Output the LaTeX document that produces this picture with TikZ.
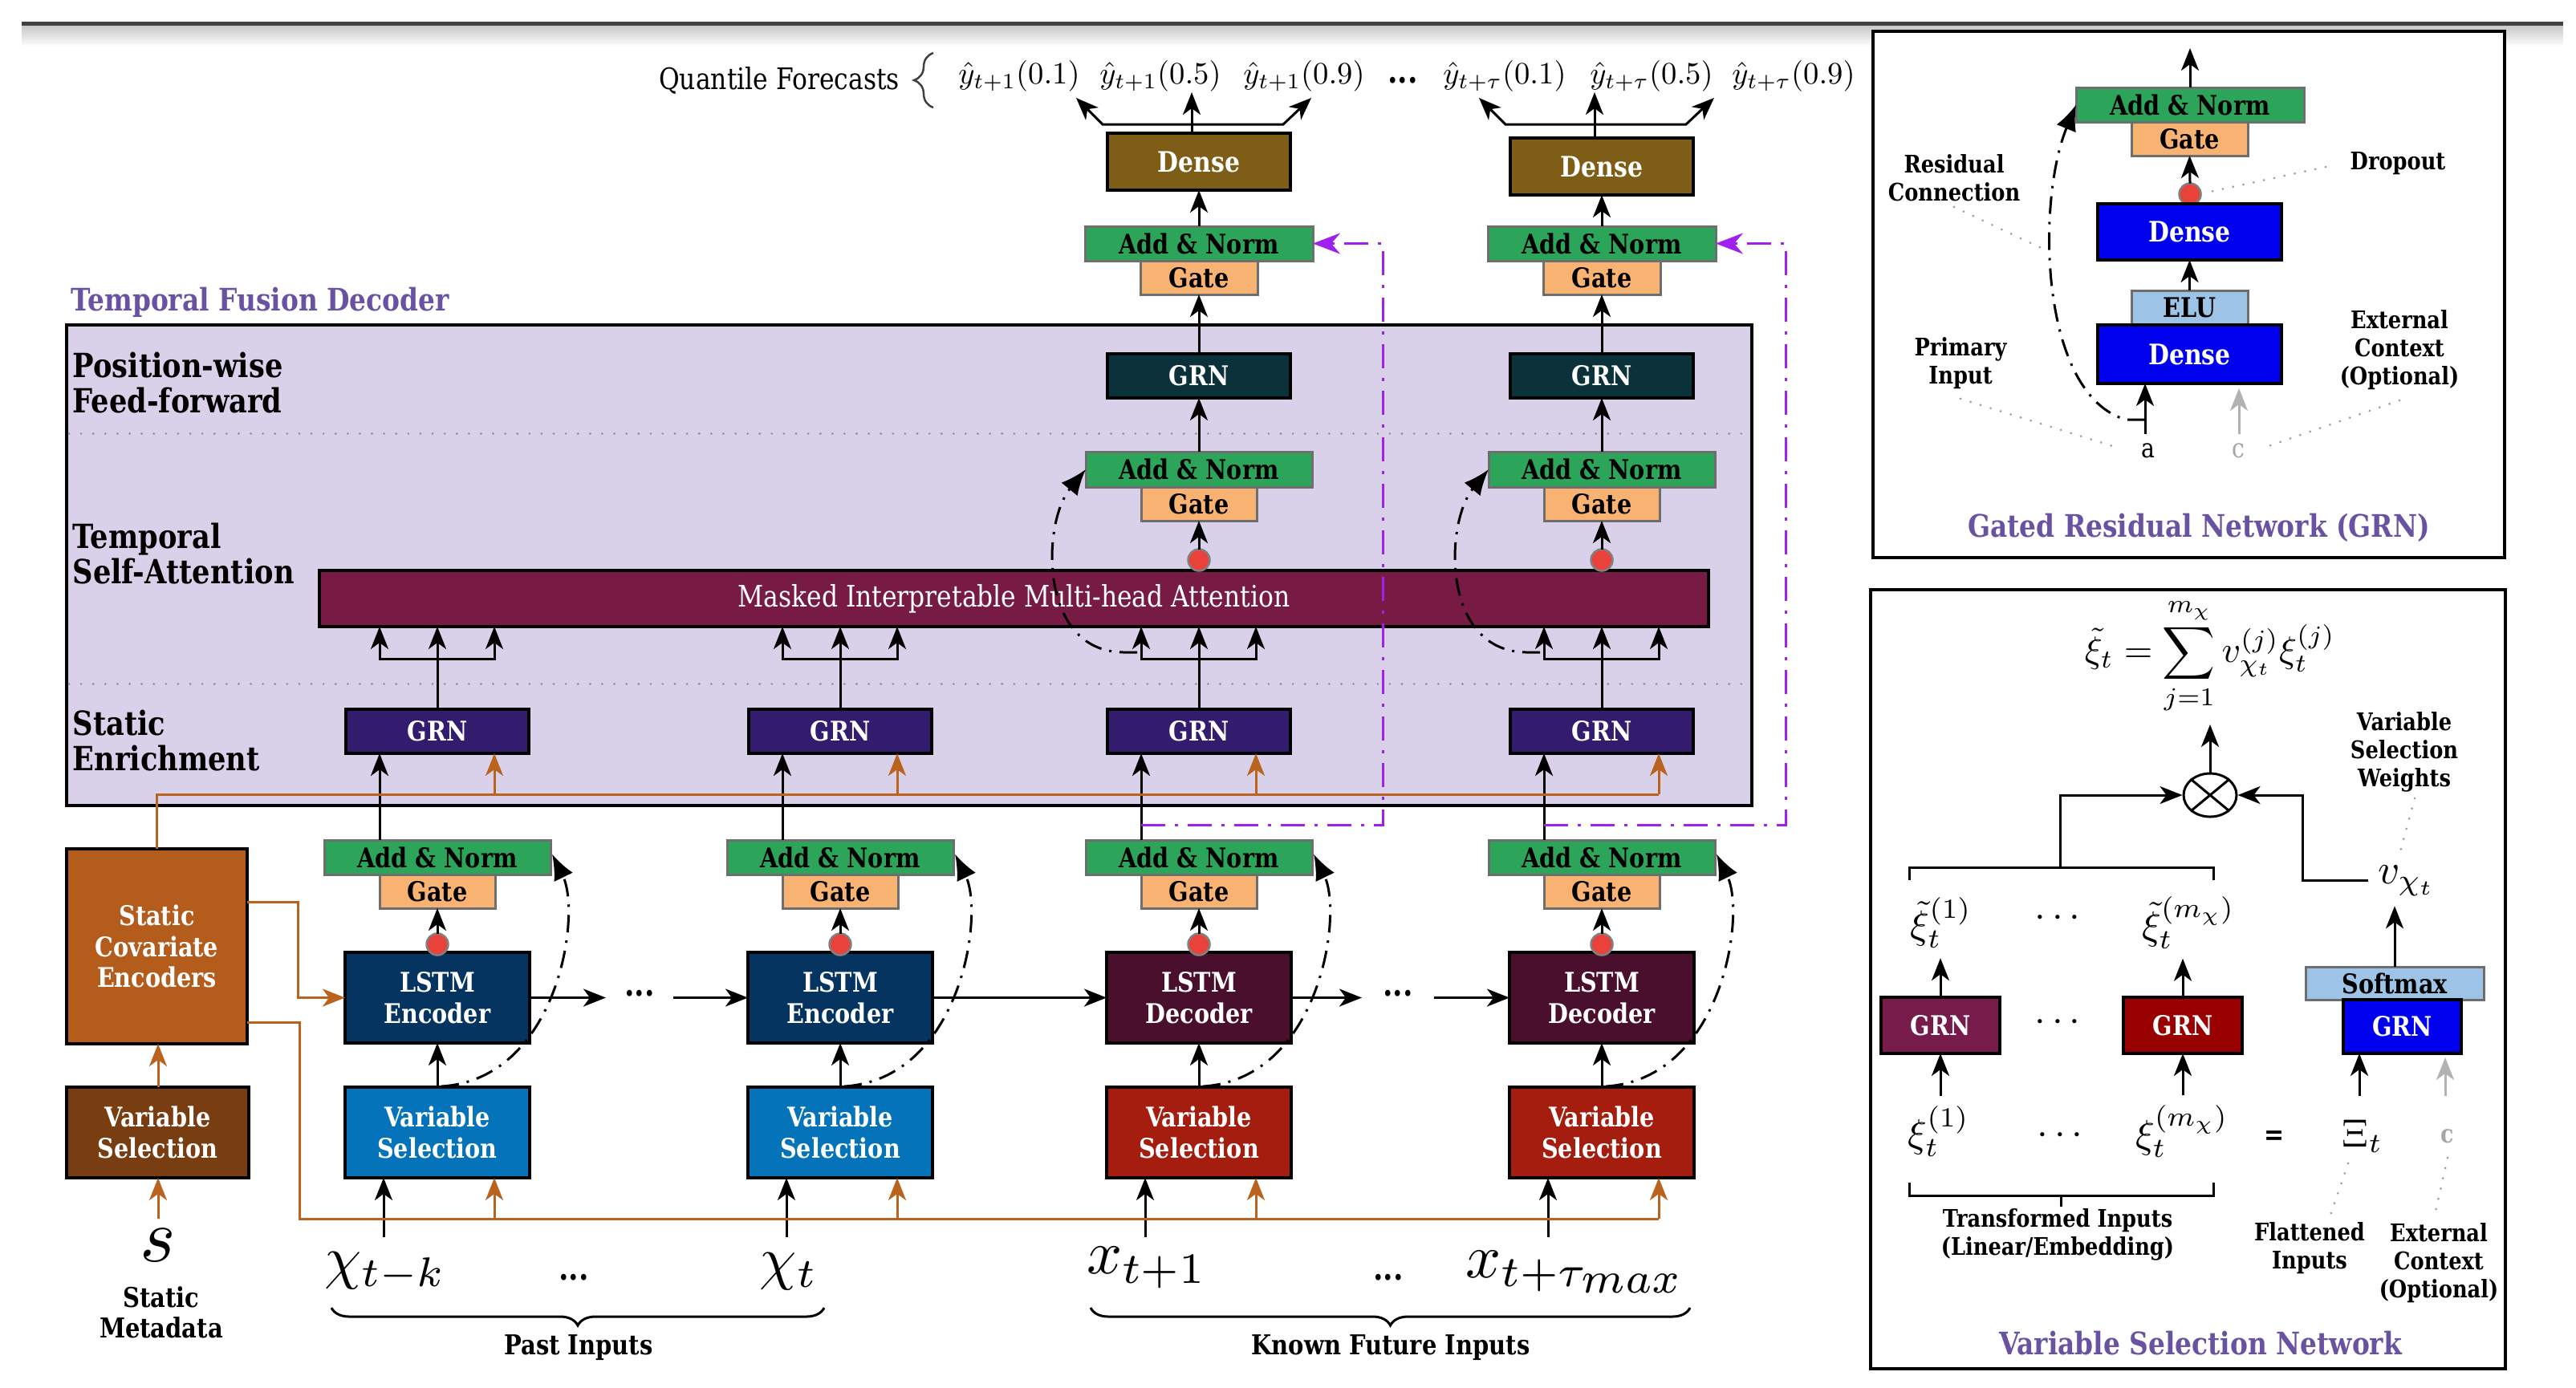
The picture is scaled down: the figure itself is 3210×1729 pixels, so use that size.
\documentclass[tikz,border=0pt]{standalone}
\usepackage{graphicx}
\usepackage{fontspec}
\setmainfont{DejaVu Serif}[FakeStretch=0.85]
\usetikzlibrary{arrows.meta,decorations.pathreplacing,calc,shapes.geometric}
\definecolor{angreen}{HTML}{2CA55A}
\definecolor{gateor}{HTML}{F8B272}
\definecolor{densebr}{HTML}{7E5E16}
\definecolor{pffgrn}{HTML}{0B323B}
\definecolor{attn}{HTML}{771B45}
\definecolor{segrn}{HTML}{331B6E}
\definecolor{lstmenc}{HTML}{04345F}
\definecolor{lstmdec}{HTML}{4B0F2E}
\definecolor{vspast}{HTML}{0573BA}
\definecolor{vsfut}{HTML}{A51D0E}
\definecolor{scec}{HTML}{B45C1B}
\definecolor{vsstat}{HTML}{783D10}
\definecolor{tfdfill}{HTML}{D9D1E9}
\definecolor{orangec}{HTML}{B9631F}
\definecolor{purp}{HTML}{A020F0}
\definecolor{titlep}{HTML}{6A52A3}
\definecolor{grnblue}{HTML}{0000EE}
\definecolor{elu}{HTML}{9DC3E6}
\definecolor{vsnone}{HTML}{761B4A}
\definecolor{vsntwo}{HTML}{990000}
\definecolor{reddot}{HTML}{E8423A}
\definecolor{anborder}{HTML}{6E6E6E}
\newcommand\fsz[2]{\fontsize{#1}{#2}\selectfont}
\newcommand\mth[2]{\scalebox{#1}{$#2$}}
\newcommand\bx[7]{\node[#6, minimum width={((#4)-(#2))*0.1mm}, minimum height={((#5)-(#3))*0.1mm}] (#1) at ({((#2)+(#4))/2},{((#3)+(#5))/2}) {#7};}
\tikzset{
  box/.style={draw=black, line width=0.35mm, inner sep=0pt, outer sep=0pt, text=white, align=center, font=\bfseries\fsz{9.6}{11}},
  anb/.style={box, draw=anborder, line width=0.3mm, fill=angreen, text=black},
  gtb/.style={anb, fill=gateor},
  frame/.style={draw=black, line width=0.4mm, fill=white, inner sep=0pt, outer sep=0pt},
  arr/.style={line width=0.3mm, -{Stealth[length=2.8mm,width=2.2mm,inset=0.8mm]}},
  arrtwo/.style={line width=0.3mm, {Stealth[length=2.8mm,width=2.2mm,inset=0.8mm]}-{Stealth[length=2.8mm,width=2.2mm,inset=0.8mm]}},
  oarr/.style={arr, draw=orangec},
  oln/.style={line width=0.3mm, draw=orangec},
  res/.style={line width=0.3mm, dash pattern=on 2.2mm off 1mm on 0.3mm off 1mm, -{Latex[length=3.2mm,width=2.6mm]}},
  pdash/.style={line width=0.3mm, draw=purp, dash pattern=on 3mm off 1.2mm on 0.4mm off 1.2mm, -{Stealth[length=3.4mm,width=2.6mm,inset=1.1mm]}},
  anno/.style={line width=0.3mm, draw=gray!75, dash pattern=on 0.01mm off 1.3mm, line cap=round},
  sep/.style={line width=0.3mm, draw=gray!85, dash pattern=on 0.01mm off 1.5mm, line cap=round},
  rdot/.style={circle, fill=reddot, draw=gray, line width=0.25mm, minimum size=2.7mm, inner sep=0pt, outer sep=0pt},
  lbl/.style={font=\bfseries\fsz{11.8}{12.4}, align=left, anchor=west, inner sep=0pt},
  ann/.style={font=\bfseries\fsz{8.6}{10}, align=center, inner sep=0pt},
  ttl/.style={font=\bfseries\fsz{11}{12}, text=titlep, inner sep=0pt},
  ql/.style={inner sep=0pt},
}
\begin{document}
\begin{tikzpicture}[x=0.1mm,y=-0.1mm]
\useasboundingbox (0,0) rectangle (3210,1729);
% header rule
\shade[top color=gray!45, bottom color=white] (27,31) rectangle (3194,58);
\fill[black!75] (27,27) rectangle (3194,32);

% Temporal fusion decoder frame
\bx{tfd}{83}{405}{2183}{1004}{draw=black, line width=0.4mm, fill=tfdfill, inner sep=0pt, outer sep=0pt}{}
\node[ttl, anchor=west] (tfdt) at (88,377) {Temporal Fusion Decoder};
\draw[sep] (86,540) -- (2180,540);
\draw[sep] (86,852) -- (2180,852);
\node[lbl] (pffl) at (90,477) {Position-wise\\Feed-forward};
\node[lbl] (tsal) at (90,690) {Temporal\\Self-Attention};
\node[lbl] (senl) at (90,923) {Static\\Enrichment};

\bx{att}{398}{711}{2129}{781}{box, fill=attn, font=\fsz{10.5}{12}}{Masked Interpretable Multi-head Attention}

% static side
\bx{sce}{83}{1058}{308}{1301}{box, fill=scec}{Static\\Covariate\\Encoders}
\bx{vss}{83}{1355}{310}{1468}{box, fill=vsstat}{Variable\\Selection}
\node (sm) at (197,1552) {\mth{2.7}{s}};
\node[font=\bfseries\fsz{9.7}{10.8}, align=center] (smt) at (201,1636) {Static\\Metadata};
\draw[oarr] (sm.north) -- (vss.south -| sm.north);
\draw[oarr] (vss.north -| sm.north) -- (sce.south -| sm.north);

% columns
\foreach \i/\cx/\lc/\ltxt/\vc in {1/545/lstmenc/Encoder/vspast, 2/1047/lstmenc/Encoder/vspast, 3/1494/lstmdec/Decoder/vsfut, 4/1996/lstmdec/Decoder/vsfut}{
  \bx{S\i}{\cx-114}{884}{\cx+114}{939}{box, fill=segrn}{GRN}
  \bx{L\i}{\cx-115}{1187}{\cx+115}{1300}{box, fill=\lc}{LSTM\\\ltxt}
  \bx{V\i}{\cx-115}{1355}{\cx+115}{1468}{box, fill=\vc}{Variable\\Selection}
  \bx{A\i}{\cx-141}{1047}{\cx+141}{1090}{anb}{Add \& Norm}
  \bx{G\i}{\cx-72}{1090}{\cx+72}{1132}{gtb}{Gate}
  \node[rdot] (R\i) at (\cx,1177) {};
  \draw[arr] (R\i.north) -- (G\i.south);
  \draw[arr] (V\i.north) -- (L\i.south);
  \draw[arr] (G\i.west |- A\i.north) -- (G\i.west |- S\i.south);
  \draw[res] ($(V\i.north)+(5,-1)$) .. controls ({\cx+150},1345) and ({\cx+180},1140) .. ($(A\i.east)+(2,-4)$);
  \coordinate (bl\i) at ({\cx-72},821);
  \coordinate (br\i) at ({\cx+71},821);
  \draw[arrtwo] (bl\i |- att.south) -- (bl\i) -- (br\i) -- (br\i |- att.south);
  \draw[arr] (S\i.north) -- (S\i.north |- att.south);
  \coordinate (oS\i) at ({\cx+71},990);
  \coordinate (oV\i) at ({\cx+71},1519);
  \coordinate (in\i) at ({\cx-67},1542);
  \draw[oarr] (oS\i) -- (oS\i |- S\i.south);
  \draw[oarr] (oV\i) -- (oV\i |- V\i.south);
  \draw[arr] (in\i) -- (in\i |- V\i.south);
}
% orange static context lines
\draw[oln] (sce.north) -- (sce.north |- oS4) -- (oS4);
\draw[oln] (sce.east |- 0,1274) -- (373,1274) -- (373,1519) -- (oV4);
\draw[oarr] (sce.east |- 0,1124) -- (371,1124) -- (371,1243.5) -- (L1.west);

% LSTM chain
\node[font=\bfseries\fsz{12}{12}, inner sep=0pt] (dd1) at (797,1238) {...};
\node[font=\bfseries\fsz{12}{12}, inner sep=0pt] (dd2) at (1742,1238) {...};
\draw[arr] (L1.east) -- ++(95,0);
\draw[arr] ($(L2.west)+(-93,0)$) -- (L2.west);
\draw[arr] (L2.east) -- (L3.west);
\draw[arr] (L3.east) -- ++(88,0);
\draw[arr] ($(L4.west)+(-94,0)$) -- (L4.west);

% inputs
\node (x1) at (480,1585) {\mth{2.1}{\chi_{t-k}}};
\node[font=\bfseries\fsz{12}{12}, inner sep=0pt] (xd1) at (715,1592) {...};
\node (x2) at (983,1585) {\mth{2.1}{\chi_t}};
\node (x3) at (1429,1580) {\mth{2.2}{x_{t+1}}};
\node[font=\bfseries\fsz{12}{12}, inner sep=0pt] (xd2) at (1730,1592) {...};
\node (x4) at (1964,1585) {\mth{2.2}{x_{t+\tau_{\scriptstyle max}}}};
\draw[line width=0.3mm, decorate, decoration={brace, amplitude=2.2mm}] (1027,1630) -- (413,1630);
\draw[line width=0.3mm, decorate, decoration={brace, amplitude=2.2mm}] (2106,1630) -- (1359,1630);
\node[font=\bfseries\fsz{9.7}{11}] (pin) at (721,1680) {Past Inputs};
\node[font=\bfseries\fsz{9.7}{11}] (kin) at (1733,1680) {Known Future Inputs};

% upper decoder columns
\foreach \i/\cx/\dy in {3/1494/0, 4/1996/6}{
  \bx{P\i}{\cx-114}{441}{\cx+114}{496}{box, fill=pffgrn}{GRN}
  \bx{AS\i}{\cx-141}{563}{\cx+141}{607}{anb}{Add \& Norm}
  \bx{GS\i}{\cx-72}{607}{\cx+72}{649}{gtb}{Gate}
  \node[rdot] (RS\i) at (\cx,698) {};
  \draw[arr] (RS\i.north) -- (GS\i.south);
  \draw[arr] (AS\i.north) -- (P\i.south);
  \draw[res] ($(bl\i)+(-5,-8)$) -- ($(bl\i)+(-22,-8)$) .. controls ({\cx-200},812) and ({\cx-196},652) .. (AS\i.west);
  \bx{AT\i}{\cx-142}{282}{\cx+142}{325}{anb}{Add \& Norm}
  \bx{GT\i}{\cx-73}{325}{\cx+73}{367}{gtb}{Gate}
  \draw[arr] (P\i.north) -- (GT\i.south);
  \bx{D\i}{\cx-114}{166+\dy}{\cx+114}{237+\dy}{box, fill=densebr, font=\bfseries\fsz{10}{11}}{Dense}
  \draw[arr] (AT\i.north) -- (D\i.south);
  \coordinate (om\i) at ({\cx-9},115);
  \draw[arr] (om\i |- D\i.north) -- (om\i);
  \draw[arrtwo] ({\cx-153},122) -- ({\cx-120},155) -- ({\cx+105},155) -- ({\cx+140},122);
  \draw[pdash] (G\i.west |- 0,1028) -- ++(301,0) |- (AT\i.east);
}

% quantile forecasts
\node[font=\fsz{10.5}{12}] (qf) at (971,100) {Quantile Forecasts};
\draw[line width=0.25mm, draw=black!75, decorate, decoration={brace, amplitude=2.4mm}] (1163,134) -- (1163,66);
\node[ql] (q1) at (1270,95) {\mth{1.1}{\hat{y}_{t+1}(0.1)}};
\node[ql] (q2) at (1446,95) {\mth{1.1}{\hat{y}_{t+1}(0.5)}};
\node[ql] (q3) at (1625,95) {\mth{1.1}{\hat{y}_{t+1}(0.9)}};
\node[font=\bfseries\fsz{12}{12}, inner sep=0pt] (qd) at (1748,100) {...};
\node[ql] (q4) at (1875,95) {\mth{1.1}{\hat{y}_{t+\tau}(0.1)}};
\node[ql] (q5) at (2058,95) {\mth{1.1}{\hat{y}_{t+\tau}(0.5)}};
\node[ql] (q6) at (2235,95) {\mth{1.1}{\hat{y}_{t+\tau}(0.9)}};

\begin{scope}[xshift=-1.3mm]
% ===== GRN inset =====
\bx{grnbox}{2347}{39}{3134}{695}{frame}{}
\bx{gan}{2600}{109}{2884}{152}{anb}{Add \& Norm}
\bx{ggt}{2669}{152}{2814}{194}{gtb}{Gate}
\coordinate (gout) at (2742,60);
\draw[arr] (gan.north) -- (gout);
\node[rdot] (gdot) at (2742,242) {};
\draw[arr] (gdot.north) -- (ggt.south);
\bx{gdone}{2627}{254}{2856}{324}{box, fill=grnblue, font=\bfseries\fsz{10}{11}}{Dense}
\bx{gelu}{2669}{362}{2814}{405}{gtb, fill=elu}{ELU}
\bx{gdtwo}{2627}{405}{2856}{478}{box, fill=grnblue, font=\bfseries\fsz{10}{11}}{Dense}
\draw[arr] (gelu.north) -- (gdone.south);
\node[font=\fsz{9.5}{10}] (ga) at (2690,562) {a};
\node[font=\fsz{9.5}{10}, text=gray!70] (gc) at (2802,562) {c};
\coordinate (ga0) at (2686,541);
\coordinate (gc0) at (2803,541);
\draw[arr] (ga0) -- (ga0 |- gdtwo.south);
\draw[arr, draw=gray!60] (gc0) -- ($(gc0 |- gdtwo.south)+(0,6)$);
\draw[res] (2686,523) -- (2662,523) .. controls (2555,492) and (2550,252) .. (gan.west);
\node[ann] (trc) at (2448,222) {Residual\\Connection};
\draw[anno] (2448,258) -- (2565,313);
\node[ann] (tdo) at (3001,204) {Dropout};
\draw[anno] (2911,208) -- (2762,240);
\node[ann] (tpi) at (2456,453) {Primary\\Input};
\draw[anno] (2456,497) -- (2649,557);
\node[ann] (tec) at (3003,436) {External\\Context\\(Optional)};
\draw[anno] (3003,499) -- (2837,557);
\node[ttl] (grnt) at (2753,658) {Gated Residual Network (GRN)};

% ===== VSN inset =====
\bx{vsnbox}{2344}{735}{3135}{1706}{frame}{}
\node (form) at (2767,818) {\scalebox{1.3}{$\displaystyle \tilde{\xi}_t=\sum_{j=1}^{m_\chi} v_{\chi_t}^{(j)}\xi_t^{(j)}$}};
\node[ellipse, draw, line width=0.3mm, minimum width=6.6mm, minimum height=5.4mm, inner sep=0pt] (otm) at (2767,991) {};
\draw[line width=0.3mm] (otm.north west) -- (otm.south east);
\draw[line width=0.3mm] (otm.north east) -- (otm.south west);
\draw[arr] (otm.north) -- (form.south);
\draw[line width=0.3mm] (2392,1097) -- (2392,1081) -- (2771,1081) -- (2771,1097);
\coordinate (vl) at (2580,1081);
\draw[arr] (vl) |- (otm.west);
\node (vchi) at (3012,1098) {\mth{1.5}{v_{\chi_t}}};
\coordinate (vr) at (2882,1097);
\draw[arr] (vchi.west |- vr) -- (vr) |- (otm.east);
\node[ann] (vsw) at (3009,937) {Variable\\Selection\\Weights};
\draw[anno] (3022,995) -- (3003,1065);
\bx{smax}{2886}{1205}{3108}{1246}{gtb, fill=elu}{Softmax}
\bx{vg3}{2933}{1246}{3080}{1313}{box, fill=grnblue}{GRN}
\draw[arr] (smax.north) -- (vchi.south -| smax.north);
\bx{vg1}{2357}{1243}{2505}{1313}{box, fill=vsnone}{GRN}
\bx{vg2}{2659}{1243}{2807}{1313}{box, fill=vsntwo}{GRN}
\node (vdots1) at (2577,1145) {\mth{1.4}{\cdots}};
\node (vdots2) at (2577,1275) {\mth{1.4}{\cdots}};
\node (vdots3) at (2580,1416) {\mth{1.4}{\cdots}};
\node (xt1) at (2432,1150) {\mth{1.4}{\tilde{\xi}_t^{(1)}}};
\node (xt2) at (2740,1150) {\mth{1.4}{\tilde{\xi}_t^{(m_\chi)}}};
\node (xi1) at (2429,1410) {\mth{1.4}{\xi_t^{(1)}}};
\node (xi2) at (2732,1410) {\mth{1.4}{\xi_t^{(m_\chi)}}};
\draw[arr] (xi1.north -| vg1) -- (vg1.south);
\draw[arr] (vg1.north) -- (xt1.south -| vg1);
\draw[arr] (xi2.north -| vg2) -- (vg2.south);
\draw[arr] (vg2.north) -- (xt2.south -| vg2);
\node[font=\bfseries\fsz{10}{10}] (eq) at (2847,1418) {=};
\node (bxi) at (2957,1416) {\mth{1.4}{\Xi_t}};
\node[font=\bfseries\fsz{9}{10}, text=gray!70] (vc) at (3063,1416) {c};
\coordinate (bx0) at (2953,1366);
\coordinate (bc0) at (3060,1366);
\draw[arr] (bx0) -- (bx0 |- vg3.south);
\draw[arr, draw=gray!60] (bc0) -- ($(bc0 |- vg3.south)+(0,5)$);
\draw[line width=0.3mm] (2392,1474) -- (2392,1490) -- (2771,1490) -- (2771,1474);
\draw[line width=0.3mm] (2581,1490) -- (2581,1504);
\node[ann] (tti) at (2577,1539) {Transformed Inputs\\(Linear/Embedding)};
\node[ann] (tfi) at (2891,1556) {Flattened\\Inputs};
\draw[anno] (2939,1450) -- (2916,1517);
\node[ann] (tec2) at (3052,1574) {External\\Context\\(Optional)};
\draw[anno] (3063,1443) -- (3047,1514);
\node[ttl] (vsnt) at (2755,1674) {Variable Selection Network};
\end{scope}
\end{tikzpicture}
\end{document}
